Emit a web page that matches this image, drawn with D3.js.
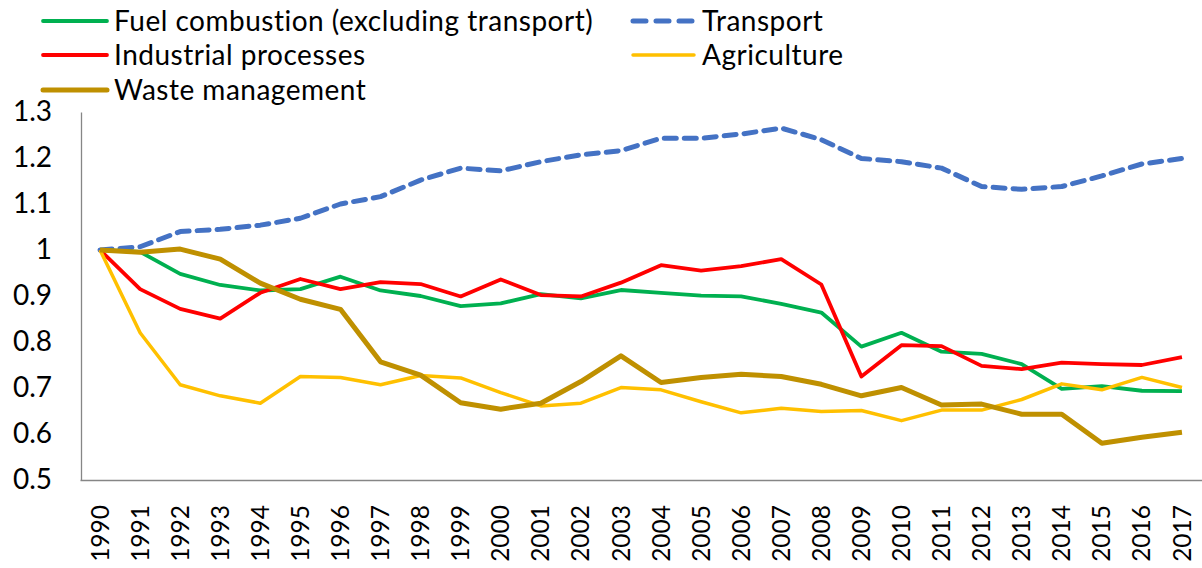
<!DOCTYPE html>
<html><head><meta charset="utf-8">
<script src="https://cdn.jsdelivr.net/npm/d3@7/dist/d3.min.js"></script>
<style>body{margin:0;background:#fff;} svg{display:block;font-family:Lato,"Open Sans",sans-serif;}</style>
</head><body><svg id="c" width="1202" height="568"></svg>
<script>
const years = [1990,1991,1992,1993,1994,1995,1996,1997,1998,1999,2000,2001,2002,2003,2004,2005,2006,2007,2008,2009,2010,2011,2012,2013,2014,2015,2016,2017];
const fuel = [1,0.996,0.948,0.924,0.912,0.915,0.942,0.912,0.9,0.878,0.884,0.904,0.895,0.913,0.907,0.901,0.899,0.883,0.864,0.79,0.82,0.779,0.774,0.752,0.698,0.704,0.694,0.693];
const transport = [1,1.007,1.04,1.045,1.054,1.069,1.1,1.116,1.152,1.178,1.172,1.192,1.207,1.216,1.243,1.243,1.252,1.265,1.24,1.199,1.192,1.178,1.138,1.132,1.138,1.161,1.187,1.199];
const industrial = [1,0.915,0.872,0.851,0.907,0.937,0.915,0.93,0.926,0.899,0.936,0.902,0.899,0.929,0.967,0.955,0.965,0.98,0.925,0.725,0.793,0.791,0.748,0.741,0.755,0.752,0.75,0.767];
const agriculture = [1,0.82,0.707,0.683,0.667,0.725,0.723,0.707,0.727,0.722,0.69,0.661,0.667,0.701,0.696,0.67,0.646,0.656,0.649,0.651,0.629,0.652,0.652,0.675,0.709,0.696,0.723,0.701];
const waste = [1,0.995,1.002,0.98,0.928,0.893,0.871,0.757,0.728,0.668,0.654,0.667,0.714,0.77,0.712,0.723,0.73,0.725,0.708,0.683,0.701,0.663,0.665,0.643,0.643,0.58,0.593,0.604];
const yTicks = [0.5,0.6,0.7,0.8,0.9,1,1.1,1.2,1.3];

const series = [
  {name:"Fuel combustion (excluding transport)", values:fuel, color:"#00B050", width:3.8, dash:null},
  {name:"Transport", values:transport, color:"#4472C4", width:5, dash:"12,8"},
  {name:"Industrial processes", values:industrial, color:"#FF0000", width:3.8, dash:null},
  {name:"Agriculture", values:agriculture, color:"#FFC000", width:3.5, dash:null},
  {name:"Waste management", values:waste, color:"#BF9000", width:5, dash:null}
];

const svg = d3.select("#c");
const mLeft = 80, mRight = 1202, mTop = 112, mBottom = 480;
const x = d3.scaleBand().domain(years).range([mLeft, mRight]);
const y = d3.scaleLinear().domain([0.5,1.3]).range([mBottom, mTop]);

// Y axis
const ya = svg.append("g").attr("transform",`translate(${mLeft+1},0)`)
  .call(d3.axisLeft(y).tickValues(yTicks).tickSize(0).tickPadding(29).tickFormat(d=>String(+d.toFixed(1))));
ya.select(".domain").attr("stroke","#868686").attr("stroke-width",1.3);
ya.selectAll("text").attr("font-size",28).attr("fill","#000").attr("font-family","Lato, sans-serif");

// X axis
const xa = svg.append("g").attr("transform",`translate(0,${mBottom})`)
  .call(d3.axisBottom(x).tickSize(0).tickPadding(0));
xa.select(".domain").attr("stroke","#868686").attr("stroke-width",1.3);
xa.selectAll("text").attr("font-size",24.5).attr("fill","#000").attr("font-family","Lato, sans-serif")
  .attr("text-anchor","end").attr("dy","0.35em")
  .attr("transform","translate(0,25) rotate(-90)").attr("x",0).attr("y",0);

// Lines
const line = d3.line().x((d,i)=>x(years[i])+x.bandwidth()/2).y(d=>y(d)).curve(d3.curveLinear);
const order = [1,0,2,3,4];
order.forEach(k=>{
  const s = series[k];
  svg.append("path").datum(s.values).attr("d",line).attr("fill","none")
    .attr("stroke",s.color).attr("stroke-width",s.width)
    .attr("stroke-linejoin","round").attr("stroke-linecap",s.dash?"round":"butt")
    .attr("stroke-dasharray",s.dash);
});

// Legend
const legPos = [[43,21],[633,21],[43,55],[633,55],[43,90]];
series.forEach((s,i)=>{
  const [lx,ly] = legPos[i];
  const g = svg.append("g").attr("transform",`translate(${lx},${ly})`);
  g.append("line").attr("x1",0).attr("x2",i%2===1?61:64).attr("y1",0).attr("y2",0)
    .attr("stroke",s.color).attr("stroke-width",s.width)
    .attr("stroke-dasharray",s.dash?"13,10":null).attr("stroke-linecap","round");
  g.append("text").attr("x",i%2===1?69:71).attr("y",0).attr("dy","0.36em")
    .attr("font-size",28).attr("letter-spacing",0.5).attr("fill","#000").text(s.name);
});
</script></body></html>
